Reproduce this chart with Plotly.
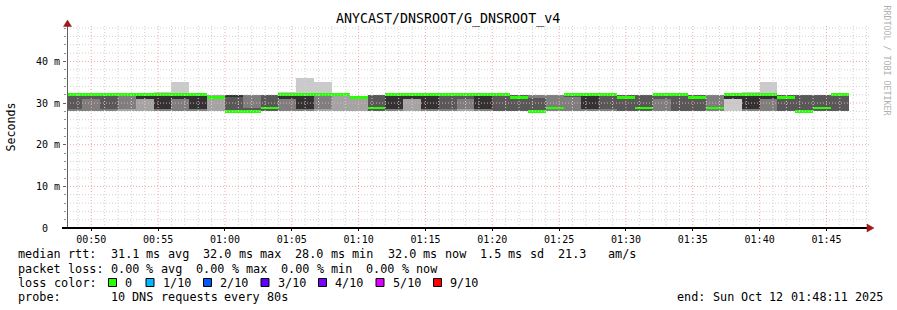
import re
import plotly.graph_objects as go
from datetime import datetime, timedelta

# ---------------- data ----------------
DAY = "2025-10-12"
RANGE_START = "2025-10-12 00:48:11"
RANGE_END = "2025-10-12 01:48:11"
STEP_S = 80

step_end = [
    "00:49:20", "00:50:40", "00:52:00", "00:53:20", "00:54:40", "00:56:00", "00:57:20", "00:58:40", "01:00:00", "01:01:20", "01:02:40",
    "01:04:00", "01:05:20", "01:06:40", "01:08:00", "01:09:20", "01:10:40", "01:12:00", "01:13:20", "01:14:40", "01:16:00", "01:17:20",
    "01:18:40", "01:20:00", "01:21:20", "01:22:40", "01:24:00", "01:25:20", "01:26:40", "01:28:00", "01:29:20", "01:30:40", "01:32:00",
    "01:33:20", "01:34:40", "01:36:00", "01:37:20", "01:38:40", "01:40:00", "01:41:20", "01:42:40", "01:44:00", "01:45:20", "01:46:40",
]

# sorted ping times (ms) per step, ping01 = fastest ... ping10 = slowest
ping01 = [28, 28, 28, 28, 28, 28, 28, 28, 28, 28, 28,
          28, 28, 28, 28, 28, 28, 28, 28, 28, 28, 28,
          28, 28, 28, 28, 28, 28, 28, 28, 28, 28, 28,
          28, 28, 28, 28, 28, 28, 28, 28, 28, 28, 28]
ping02 = [28, 28, 28, 28, 28, 28, 28, 28, 28, 28, 28,
          28, 28, 28, 28, 28, 28, 28, 28, 28, 28, 28,
          28, 28, 28, 28, 28, 28, 28, 28, 28, 28, 28,
          28, 28, 28, 28, 31, 28, 28, 28, 28, 28, 28]
ping03 = [28, 28, 28, 28.6, 31, 28, 28, 28, 31.3, 28, 28,
          28, 28, 28, 28.6, 32, 31.3, 28, 28, 31, 28, 28,
          28.6, 28, 28, 28, 28, 28, 28, 28, 28, 28, 28,
          28, 28, 28, 28, 31, 28, 28, 28, 28, 28, 28]
ping04 = [28.6, 31, 28.6, 32, 31, 28.6, 31, 28.6, 31.3, 28, 28,
          28, 31, 28.6, 32, 32, 31.3, 28, 28.6, 31, 28.6, 28.6,
          31, 28.6, 28, 28, 28, 28.8, 31.6, 28.6, 28.6, 28, 28,
          31, 28, 28, 28.8, 31, 28.6, 31, 28, 28, 28, 28]
ping05 = [32, 32, 32, 32, 31, 28.6, 31, 28.6, 31.3, 31.6, 28.9,
          28.8, 31, 28.6, 32, 32, 31.3, 28.8, 28.6, 31, 28.6, 32,
          32, 28.6, 32, 31.3, 28, 28.8, 32, 28.6, 32, 31.3, 28.8,
          32, 32, 31.3, 28.8, 31, 28.6, 31, 31.3, 28, 28.8, 32]
ping06 = [32, 32, 32, 32, 32, 32, 32, 32, 31.3, 32, 28.9,
          28.8, 32, 32, 32, 32, 31.3, 28.8, 32, 32, 32, 32,
          32, 32, 32, 31.3, 28, 28.8, 32, 32, 32, 31.3, 28.8,
          32, 32, 31.3, 28.8, 32, 32, 32, 31.3, 28, 28.8, 32]
ping07 = [32, 32, 32, 32, 32, 32, 32, 32, 31.3, 32, 28.9,
          32, 32, 32, 32, 32, 31.3, 32, 32, 32, 32, 32,
          32, 32, 32, 32, 31.1, 28.8, 32, 32, 32, 32, 32,
          32, 32, 32, 28.8, 32, 32, 32, 32, 32, 32, 32]
ping08 = [32, 32, 32, 32, 32, 32, 32, 32, 31.3, 32, 32,
          32, 32, 32, 32, 32, 31.3, 32, 32, 32, 32, 32,
          32, 32, 32, 32, 32, 32, 32, 32, 32, 32, 32,
          32, 32, 32, 32, 32, 32, 32, 32, 32, 32, 32]
ping09 = [32, 32, 32, 32, 32, 32, 32, 32, 32, 32, 32,
          32, 32, 32, 32, 32, 31.3, 32, 32, 32, 32, 32,
          32, 32, 32, 32, 32, 32, 32, 32, 32, 32, 32,
          32, 32, 32, 32, 32, 32, 32, 32, 32, 32, 32]
ping10 = [32, 32, 32, 32, 32, 32.7, 35.1, 32, 32, 32, 32,
          32, 32.7, 36.1, 35.1, 32, 31.3, 32, 32, 32, 32, 32,
          32, 32, 32, 32, 32, 32, 32, 32, 32, 32, 32,
          32, 32, 32, 32, 32, 32.7, 35.1, 32, 32, 32, 32]
median = [32, 32, 32, 32, 32, 32, 32, 32, 31.3, 28, 28,
          28.8, 32, 32, 32, 32, 31.3, 28.8, 32, 32, 32, 32,
          32, 32, 32, 31.3, 28, 28.8, 32, 32, 32, 31.3, 28.8,
          32, 32, 31.3, 28.8, 32, 32, 32, 31.3, 28, 28.8, 32]

y_ticks = [0, 10, 20, 30, 40]
y_ticktext = ["0\u00a0\u00a0", "10 m", "20 m", "30 m", "40 m"]

title_text = "ANYCAST/DNSROOT/G_DNSROOT_v4"
legend_line1 = "median rtt:  31.1 ms avg  32.0 ms max  28.0 ms min  32.0 ms now  1.5 ms sd  21.3   am/s"
legend_line2 = "packet loss: 0.00 % avg  0.00 % max  0.00 % min  0.00 % now"
legend_line3 = "loss color:"
loss_labels = ["0", "1/10", "2/10", "3/10", "4/10", "5/10", "9/10"]
loss_colors = ["#26ff00", "#00b8ff", "#0059ff", "#5e00ff", "#7e00ff", "#dd00ff", "#ff0000"]
probe_line = "probe:       10 DNS requests every 80s"
end_line = "end: Sun Oct 12 01:48:11 2025"

# ---------------- styling ----------------
W, H = 897, 310
ML, MR, MT, MB = 67, 28, 26, 82
PW, PH = W - ML - MR, H - MT - MB
Y_MAX = 48.5
MONO = "DejaVu Sans Mono"
SMOKE = ["#cacaca", "#a4a4a4", "#7e7e7e", "#585858", "#323232"]
GRID = "#d2d2d2"
MGRID = "#f2a6a6"
ARROW = "#9b1b1b"
DOTS = "1px,2px"
LEG_X0 = 16.5       # px, legend left edge
LEG_ADV = 7.1       # px per character in the legend font
LEG_SIZE = 11.8
SWATCH_X = [108.5, 146, 203.5, 261, 318.5, 376, 433.5]


def px(x):
    return (x - ML) / PW


def py(y):
    return (H - MB - y) / PH


t_end = [datetime.strptime(DAY + " " + t, "%Y-%m-%d %H:%M:%S") for t in step_end]
x_mid = [(t - timedelta(seconds=STEP_S / 2)).strftime("%Y-%m-%d %H:%M:%S") for t in t_end]

pings = [ping01, ping02, ping03, ping04, ping05, ping06, ping07, ping08, ping09, ping10]

fig = go.Figure()
for i in range(5):
    lo = pings[i]
    hi = pings[9 - i]
    fig.add_trace(go.Bar(
        x=x_mid, base=lo, y=[h - l for h, l in zip(hi, lo)],
        width=STEP_S * 1000, marker=dict(color=SMOKE[i], line=dict(width=0)),
        hoverinfo="skip", showlegend=False,
    ))

half = 1.3 * Y_MAX / PH  # median band half-thickness in ms (~1.3 px)
fig.add_trace(go.Bar(
    x=x_mid, base=[m - half for m in median], y=[2 * half] * len(median),
    width=STEP_S * 1000, marker=dict(color=loss_colors[0], line=dict(width=0)),
    hoverinfo="skip", showlegend=False,
))

shapes = []
# grid on top of the graph (rrdtool style)
t0 = datetime.strptime(DAY + " 00:49:00", "%Y-%m-%d %H:%M:%S")
t_stop = datetime.strptime(RANGE_END, "%Y-%m-%d %H:%M:%S")
for m in range(60):
    t = t0 + timedelta(minutes=m)
    if t > t_stop:
        break
    major = t.minute % 5 == 0
    ts = t.strftime("%Y-%m-%d %H:%M:%S")
    shapes.append(dict(type="line", xref="x", yref="paper", x0=ts, x1=ts, y0=0, y1=1, layer="above",
                       line=dict(color=MGRID if major else GRID, width=1, dash=DOTS)))
for v in range(2, 50, 2):
    if v > Y_MAX:
        break
    major = v % 10 == 0
    shapes.append(dict(type="line", xref="paper", yref="y", x0=0, x1=1, y0=v, y1=v, layer="above",
                       line=dict(color=MGRID if major else GRID, width=1, dash=DOTS)))

# axes + arrows
shapes.append(dict(type="line", xref="paper", yref="paper", x0=px(67.5), x1=px(67.5),
                   y0=py(229), y1=py(24), layer="above", line=dict(color="#606060", width=1)))
shapes.append(dict(type="line", xref="paper", yref="paper", x0=px(62), x1=px(870),
                   y0=py(228), y1=py(228), layer="above", line=dict(color="#000000", width=2)))
shapes.append(dict(type="path", xref="paper", yref="paper", layer="above",
                   path=f"M {px(63.5)},{py(26.5)} L {px(67.5)},{py(20)} L {px(71.5)},{py(26.5)} Z",
                   fillcolor=ARROW, line=dict(color=ARROW, width=0.5)))
shapes.append(dict(type="path", xref="paper", yref="paper", layer="above",
                   path=f"M {px(867)},{py(224)} L {px(874)},{py(228)} L {px(867)},{py(232)} Z",
                   fillcolor=ARROW, line=dict(color=ARROW, width=0.5)))

annotations = []
annotations.append(dict(text=title_text, xref="paper", yref="paper", x=px(448), y=py(19.5),
                        xanchor="center", yanchor="middle", showarrow=False,
                        font=dict(family=MONO, size=13.3, color="#000")))
annotations.append(dict(text="Seconds", xref="paper", yref="paper", x=px(10.5), y=py(127),
                        xanchor="center", yanchor="middle", showarrow=False, textangle=-90,
                        font=dict(family=MONO, size=11.6, color="#000")))
annotations.append(dict(text="RRDTOOL\u00a0/\u00a0TOBI\u00a0OETIKER", xref="paper", yref="paper",
                        x=px(886.5), y=py(60), xanchor="center", yanchor="middle", showarrow=False,
                        textangle=90, font=dict(family=MONO, size=8.3, color="#b0b0b0")))

LEG = dict(family=MONO, size=LEG_SIZE, color="#000")


def put_words(line, x0, yy):
    # each word placed at its own character column (monospace layout)
    for mt in re.finditer(r"\S+", line):
        annotations.append(dict(text=mt.group(), xref="paper", yref="paper",
                                x=px(x0 + mt.start() * LEG_ADV), y=py(yy),
                                xanchor="left", yanchor="middle", showarrow=False, font=LEG))


put_words(legend_line1, LEG_X0, 254.5)
put_words(legend_line2, LEG_X0, 268.5)
put_words(legend_line3, LEG_X0, 282.5)
put_words(probe_line, LEG_X0, 296.5)
put_words(end_line, 881 - len(end_line) * LEG_ADV, 296.5)

for xs, lab, col in zip(SWATCH_X, loss_labels, loss_colors):
    shapes.append(dict(type="rect", xref="paper", yref="paper", x0=px(xs), x1=px(xs + 8),
                       y0=py(286.5), y1=py(278.5), fillcolor=col, line=dict(color="#000", width=1)))
    annotations.append(dict(text=lab, xref="paper", yref="paper", x=px(xs + 14.5), y=py(282.5),
                            xanchor="left", yanchor="middle", showarrow=False, font=LEG))

fig.update_layout(
    width=W, height=H, margin=dict(l=ML, r=MR, t=MT, b=MB, pad=0),
    paper_bgcolor="#ffffff", plot_bgcolor="#ffffff",
    barmode="overlay", bargap=0, showlegend=False,
    font=dict(family=MONO, size=10, color="#000"),
    shapes=shapes, annotations=annotations,
    xaxis=dict(type="date", range=[RANGE_START, RANGE_END], tickformat="%H:%M",
               tick0="2025-10-12 00:00:00", dtick=300000, showgrid=False, zeroline=False,
               showline=False, ticks="outside", ticklen=2, tickcolor="#000",
               tickfont=dict(family=MONO, size=10, color="#000"), fixedrange=True),
    yaxis=dict(range=[0, Y_MAX], tickmode="array", tickvals=y_ticks, ticktext=y_ticktext,
               showgrid=False, zeroline=False, showline=False, ticks="outside", ticklen=3,
               tickcolor="#606060", ticklabelstandoff=1,
               minor=dict(dtick=2, ticks="outside", ticklen=2, tickcolor="#909090"),
               tickfont=dict(family=MONO, size=10, color="#000"), fixedrange=True),
)

fig.write_html("out.html")
